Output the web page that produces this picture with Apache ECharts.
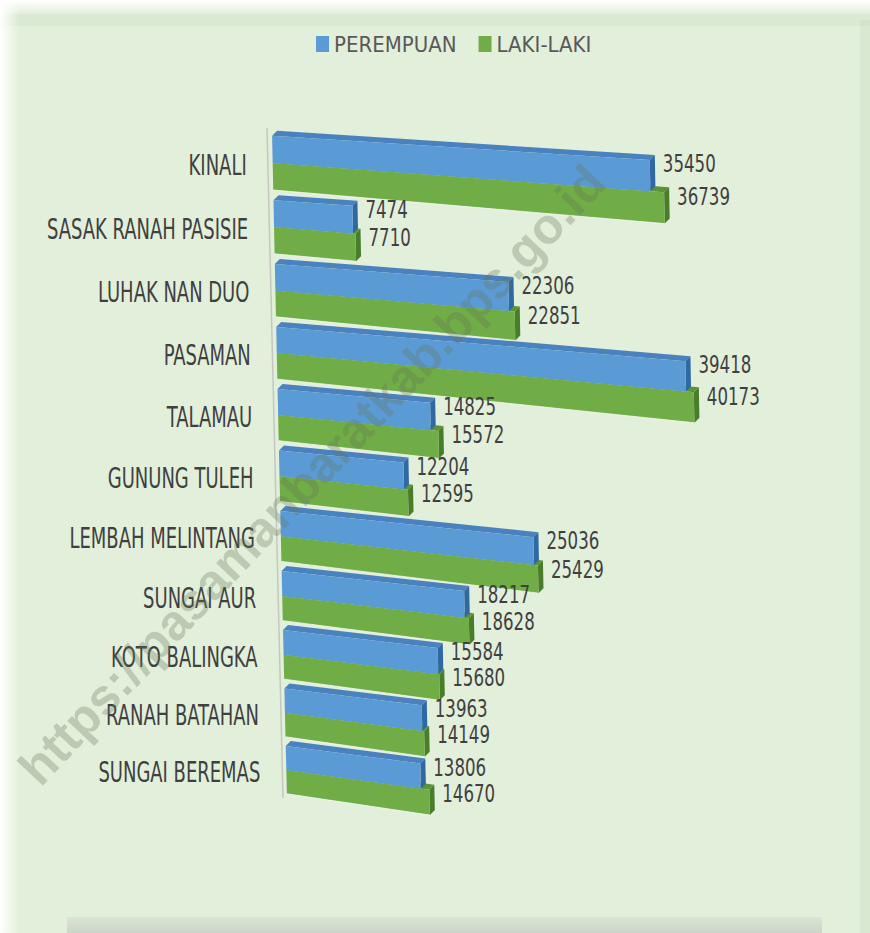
<!DOCTYPE html>
<html>
<head>
<meta charset="utf-8">
<title>Penduduk Pasaman Barat menurut Kecamatan</title>
<script src="https://cdn.jsdelivr.net/npm/echarts@6/dist/echarts.min.js"></script>
<style>
html, body { margin: 0; padding: 0; background: #fff; }
#chart { width: 870px; height: 933px; }
</style>
</head>
<body>
<div id="chart"></div>
<script>
var categories = ['KINALI', 'SASAK RANAH PASISIE', 'LUHAK NAN DUO', 'PASAMAN', 'TALAMAU', 'GUNUNG TULEH',
    'LEMBAH MELINTANG', 'SUNGAI AUR', 'KOTO BALINGKA', 'RANAH BATAHAN', 'SUNGAI BEREMAS'];
var perempuan = [35450, 7474, 22306, 39418, 14825, 12204, 25036, 18217, 15584, 13963, 13806];
var lakiLaki = [36739, 7710, 22851, 40173, 15572, 12595, 25429, 18628, 15680, 14149, 14670];
var seriesNames = ['PEREMPUAN', 'LAKI-LAKI'];

var xMax = 50000;
var narrow = "'Liberation Sans Narrow', 'Arial Narrow', 'DejaVu Sans Condensed', sans-serif";
var faces = [
    {front: '#5b9bd5', top: '#4a82bf', side: '#2f68a3'},
    {front: '#70ad47', top: '#5b9338', side: '#4a7d2b'}
];

// fake the excel 3d perspective: flat grid coords -> tilted screen coords
function warp(xf, yf, yc, cs) {
    var n = categories.length;
    var t = (yf - cs.y) / cs.height;
    var tc = (yc - cs.y) / cs.height;
    var v = t * n - 0.5;
    var vc = tc * n - 0.5;
    var yl = 163 + 64.5 * v - 0.38 * v * v;
    var ylc = 163 + 64.5 * vc - 0.38 * vc * vc;
    var xl = 272 + 15 * t;
    var k0 = cs.width / xMax;
    var dx = (xf - cs.x) * (0.0107 - 0.001 * tc) / k0;
    var s = 0.0718 + 0.0703 * tc + 0.0004 * (yl - ylc);
    return [xl + dx, yl + s * dx];
}

function shift(p, dx, dy) {
    return [p[0] + dx, p[1] + dy];
}

function makeRender(which) {
    var col = faces[which];
    return function (params, api) {
        var cs = params.coordSys;
        var i = api.value(0);
        var val = api.value(1);
        var start = api.coord([0, i]);
        var end = api.coord([val, i]);
        var yc = start[1];
        var h = api.size([0, 1])[1] * 0.42;
        var yTop = which === 0 ? yc - h : yc;
        var yBot = which === 0 ? yc : yc + h;
        var a = warp(start[0], yTop, yc, cs);
        var b = warp(end[0], yTop, yc, cs);
        var c = warp(end[0], yBot, yc, cs);
        var d = warp(start[0], yBot, yc, cs);
        var children = [
            {type: 'polygon', shape: {points: [a, b, shift(b, 5, -5), shift(a, 5, -5)]}, style: {fill: col.top}},
            {type: 'polygon', shape: {points: [b, shift(b, 5, -5), shift(c, 5, -5), c]}, style: {fill: col.side}},
            {type: 'polygon', shape: {points: [a, b, c, d]}, style: {fill: col.front}},
            {
                type: 'text', x: b[0] + 13, y: b[1] + 3, scaleX: 0.74, scaleY: 1.02,
                style: {text: String(val), x: 0, y: 0, align: 'left', verticalAlign: 'middle',
                    fontSize: 25, fontFamily: narrow, fill: '#404040'}
            }
        ];
        if (which === 1) {
            children.push({type: 'line', shape: {x1: d[0], y1: d[1], x2: c[0], y2: c[1]},
                style: {stroke: 'rgba(255,255,255,0.7)', lineWidth: 1}});
        }
        if (which === 0) {
            var m = warp(start[0], yc, yc, cs);
            children.push({
                type: 'text', x: m[0] - 26, y: m[1] + 2, scaleX: 0.74, scaleY: 1.08,
                style: {text: categories[i], x: 0, y: 0, align: 'right', verticalAlign: 'middle',
                    fontSize: 27, fontFamily: narrow, fill: '#404040'}
            });
            if (i === 0) {
                var p1 = warp(cs.x, cs.y, cs.y, cs);
                var p2 = warp(cs.x, cs.y + cs.height, cs.y + cs.height, cs);
                children.push({type: 'line', shape: {x1: p1[0] - 5, y1: p1[1] - 3, x2: p2[0] - 4, y2: p2[1]},
                    style: {stroke: '#c4c8c0', lineWidth: 1.5}});
            }
        }
        return {type: 'group', children: children};
    };
}

var chart = echarts.init(document.getElementById('chart'), null, {renderer: 'svg'});

var option = {
    backgroundColor: '#e2efda',
    animation: false,
    legend: {
        data: seriesNames,
        top: 33,
        left: 316,
        padding: 0,
        icon: 'rect',
        itemWidth: 13,
        itemHeight: 16,
        itemGap: 22,
        textStyle: {fontSize: 22, fontFamily: narrow, color: '#595959'}
    },
    grid: {left: 272, top: 133, height: 667, width: 535},
    xAxis: {type: 'value', min: 0, max: xMax, show: false},
    yAxis: {type: 'category', inverse: true, data: categories, show: false},
    graphic: [
        {type: 'rect', z: 0, shape: {x: 0, y: 0, width: 870, height: 14},
            style: {fill: new echarts.graphic.LinearGradient(0, 0, 0, 1, [
                {offset: 0, color: 'rgba(255,255,255,1)'}, {offset: 1, color: 'rgba(255,255,255,0)'}])}},
        {type: 'rect', z: 0, shape: {x: 0, y: 14, width: 870, height: 12}, style: {fill: 'rgba(200,220,190,0.3)'}},
        {type: 'rect', z: 0, shape: {x: 0, y: 0, width: 20, height: 933},
            style: {fill: new echarts.graphic.LinearGradient(0, 0, 1, 0, [
                {offset: 0, color: 'rgba(255,255,255,1)'}, {offset: 1, color: 'rgba(255,255,255,0)'}])}},
        {type: 'rect', z: 0, shape: {x: 860, y: 20, width: 10, height: 913}, style: {fill: 'rgba(200,220,190,0.35)'}},
        {type: 'rect', z: 0, shape: {x: 67, y: 917, width: 755, height: 16},
            style: {fill: new echarts.graphic.LinearGradient(0, 0, 0, 1, [
                {offset: 0, color: '#dbe4d5'}, {offset: 1, color: '#cbd4c6'}])}},
        {
            type: 'text', z: 100, x: 312, y: 475, rotation: 0.815,
            style: {text: 'https://pasamanbaratkab.bps.go.id', align: 'center', verticalAlign: 'middle',
                fontSize: 50, fontWeight: 'bold', fontFamily: 'Liberation Sans, Arial, sans-serif',
                fill: 'rgba(100,115,90,0.3)'}
        }
    ],
    series: [
        {
            name: seriesNames[0], type: 'custom', z: 3,
            itemStyle: {color: faces[0].front},
            encode: {x: 1, y: 0},
            renderItem: makeRender(0),
            data: perempuan.map(function (v, i) { return [i, v]; })
        },
        {
            name: seriesNames[1], type: 'custom', z: 2,
            itemStyle: {color: faces[1].front},
            encode: {x: 1, y: 0},
            renderItem: makeRender(1),
            data: lakiLaki.map(function (v, i) { return [i, v]; })
        }
    ]
};

chart.setOption(option);
</script>
</body>
</html>
